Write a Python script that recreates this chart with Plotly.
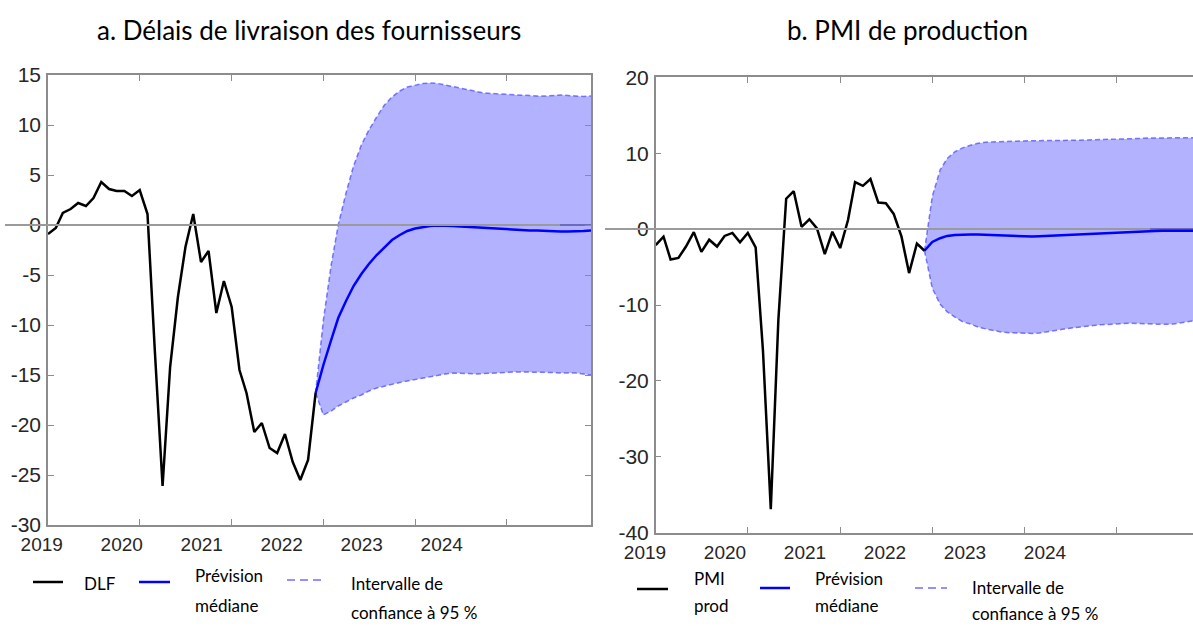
import plotly.graph_objects as go
import pandas as pd

# ---------------- data ----------------
months = pd.date_range("2019-01-01", "2024-12-01", freq="MS")
hist_months = months[:36]          # Jan 2019 .. Dec 2021
fc_months = months[35:]            # Dec 2021 .. Dec 2024

dlf_hist = [-0.9, -0.3, 1.2, 1.6, 2.2, 1.9, 2.7, 4.3, 3.6, 3.4, 3.4, 2.9,
            3.5, 1.1, -12.5, -26.1, -14.2, -7.2, -2.2, 1.1, -3.7, -2.6, -8.8, -5.6,
            -8.2, -14.5, -16.8, -20.7, -19.8, -22.3, -22.8, -20.9, -23.7, -25.5, -23.5, -16.8]
dlf_median = [-16.8, -14.0, -11.5, -9.3, -7.6, -6.1, -4.9, -3.9, -3.0, -2.2, -1.5, -1.0,
              -0.6, -0.35, -0.2, -0.1, -0.05, -0.05, -0.1, -0.15, -0.2, -0.25, -0.3, -0.35,
              -0.4, -0.45, -0.5, -0.5, -0.55, -0.55, -0.6, -0.6, -0.65, -0.65, -0.65, -0.6, -0.55]
dlf_upper = [-16.8, -9.5, -4.0, 0.0, 3.2, 5.9, 8.0, 9.5, 10.8, 12.0, 12.8, 13.4,
             13.8, 14.0, 14.15, 14.2, 14.15, 14.0, 13.85, 13.7, 13.5, 13.35, 13.2, 13.15,
             13.1, 13.05, 13.0, 12.95, 12.9, 12.9, 12.9, 12.95, 13.0, 12.95, 12.9, 12.85, 12.9]
dlf_lower = [-16.8, -19.0, -18.6, -18.1, -17.7, -17.3, -17.0, -16.6, -16.3, -16.1, -15.9, -15.75,
             -15.6, -15.45, -15.3, -15.15, -15.0, -14.9, -14.8, -14.8, -14.85, -14.9, -14.85, -14.8,
             -14.75, -14.7, -14.7, -14.7, -14.7, -14.7, -14.7, -14.75, -14.8, -14.8, -14.8, -14.9, -15.0]

pmi_hist = [-2.1, -1.0, -4.0, -3.8, -2.3, -0.4, -3.0, -1.4, -2.3, -0.9, -0.5, -1.75,
            -0.5, -2.4, -16.0, -36.9, -12.0, 4.0, 5.0, 0.3, 1.3, 0.1, -3.3, -0.35,
            -2.5, 1.2, 6.2, 5.7, 6.6, 3.5, 3.4, 2.0, -1.0, -5.8, -1.9, -2.85]
pmi_median = [-2.85, -1.7, -1.2, -0.9, -0.78, -0.72, -0.7, -0.7, -0.75, -0.8, -0.85, -0.9,
              -0.95, -1.0, -0.98, -0.95, -0.9, -0.85, -0.8, -0.75, -0.68, -0.6, -0.55, -0.5,
              -0.45, -0.4, -0.35, -0.32, -0.3, -0.27, -0.25, -0.23, -0.22, -0.22, -0.22, -0.22, -0.22]
pmi_upper = [-2.85, 4.3, 7.8, 9.3, 10.2, 10.7, 11.05, 11.3, 11.45, 11.5, 11.55, 11.6,
             11.6, 11.62, 11.65, 11.65, 11.68, 11.7, 11.7, 11.7, 11.7, 11.72, 11.75, 11.78,
             11.8, 11.82, 11.85, 11.9, 11.95, 12.0, 12.0, 12.02, 12.05, 12.05, 12.05, 12.05, 12.05]
pmi_lower = [-2.85, -7.8, -9.9, -10.9, -11.6, -12.2, -12.5, -12.9, -13.15, -13.4, -13.55, -13.65,
             -13.7, -13.72, -13.75, -13.7, -13.5, -13.35, -13.2, -13.05, -12.9, -12.8, -12.7, -12.6,
             -12.55, -12.5, -12.4, -12.4, -12.45, -12.5, -12.55, -12.55, -12.55, -12.4, -12.2, -12.1, -12.1]

year_ticks = [2019, 2020, 2021, 2022, 2023, 2024]
year_labels = ["2019", "2020", "2021", "2022", "2023", "2024"]
dlf_yticks = [15, 10, 5, 0, -5, -10, -15, -20, -25, -30]
dlf_ylabels = ["15", "10", "5", "0", "-5", "-10", "-15", "-20", "-25", "-30"]
pmi_yticks = [20, 10, 0, -10, -20, -30, -40]
pmi_ylabels = ["20", "10", "0", "-10", "-20", "-30", "-40"]

titles = ["a. Délais de livraison des fournisseurs", "b. PMI de production"]
legend_left = ["DLF", ["Prévision", "médiane"], ["Intervalle de", "confiance à 95 %"]]
legend_right = [["PMI", "prod"], ["Prévision", "médiane"], ["Intervalle de", "confiance à 95 %"]]

# ---------------- styles ----------------
W, H = 1193, 626
def px(x):
    return x / W
def py(y):
    return 1 - y / H

BLACK = "#000000"
BLUE = "#0000ff"
BAND_LINE = "rgba(60,60,255,0.65)"
BAND_FILL = "rgba(0,0,255,0.30)"
AXIS = "#8c8c8c"
TICKFONT = dict(family="Liberation Sans, Arial", size=21, color="#262626")
XTICKFONT = dict(family="Liberation Sans, Arial", size=19, color="#262626")
TEXTFONT = "Lato, Open Sans"
DASH = "5px,3px"

fig = go.Figure()

def add_panel(xa, ya, hist, median, upper, lower):
    fig.add_trace(go.Scatter(x=fc_months, y=lower, mode="lines", xaxis=xa, yaxis=ya,
                             line=dict(color=BAND_LINE, width=1.5, dash=DASH),
                             showlegend=False, hoverinfo="skip"))
    fig.add_trace(go.Scatter(x=fc_months, y=upper, mode="lines", xaxis=xa, yaxis=ya,
                             fill="tonexty", fillcolor=BAND_FILL,
                             line=dict(color=BAND_LINE, width=1.5, dash=DASH),
                             showlegend=False, hoverinfo="skip"))
    fig.add_trace(go.Scatter(x=fc_months, y=median, mode="lines", xaxis=xa, yaxis=ya,
                             line=dict(color=BLUE, width=2.5), showlegend=False))
    fig.add_trace(go.Scatter(x=hist_months, y=hist, mode="lines", xaxis=xa, yaxis=ya,
                             line=dict(color=BLACK, width=2.5), showlegend=False))

add_panel("x", "y", dlf_hist, dlf_median, dlf_upper, dlf_lower)
add_panel("x2", "y2", pmi_hist, pmi_median, pmi_upper, pmi_lower)
# empty traces for tick-label axes
fig.add_trace(go.Scatter(x=[], y=[], xaxis="x3", yaxis="y", showlegend=False))
fig.add_trace(go.Scatter(x=[], y=[], xaxis="x4", yaxis="y2", showlegend=False))

tick_dates = [f"{y}-01-01" for y in year_ticks]
common_x = dict(type="date", tickvals=tick_dates, ticks="inside", ticklen=6, tickcolor=AXIS,
                tickwidth=1.2, showticklabels=False, showline=True, linecolor=AXIS,
                linewidth=1.5, mirror="ticks", showgrid=False, zeroline=False, automargin=False)
common_y = dict(ticks="inside", ticklen=6, tickcolor=AXIS, tickwidth=1.2, showline=True,
                linecolor=AXIS, linewidth=1.5, showgrid=False, zeroline=True,
                zerolinecolor="#9a9a9a", zerolinewidth=1.5, tickfont=TICKFONT,
                ticklabelstandoff=1, automargin=False)

# label axes: year labels placed on an 80px grid as in the reference
def label_axis(first_center_px, dom0, dom1, anchor):
    step = 80.0
    r0 = year_ticks[0] + (dom0 - first_center_px) / step
    r1 = year_ticks[0] + (dom1 - first_center_px) / step
    return dict(domain=[px(dom0), px(dom1)], range=[r0, r1], anchor=anchor,
                tickvals=year_ticks, ticktext=year_labels, ticks="", showline=False,
                showgrid=False, zeroline=False, tickfont=XTICKFONT, ticklabelstandoff=6,
                automargin=False)

fig.update_layout(
    width=W, height=H,
    margin=dict(l=0, r=0, t=0, b=0, autoexpand=False),
    paper_bgcolor="white", plot_bgcolor="rgba(0,0,0,0)",
    xaxis=dict(common_x, domain=[px(48), px(591)], range=["2019-01-01", "2024-12-01"], anchor="y"),
    yaxis=dict(common_y, domain=[py(525), py(75)], range=[-30, 15], tickvals=dlf_yticks,
               ticktext=dlf_ylabels, mirror="ticks", anchor="x"),
    xaxis2=dict(common_x, domain=[px(655.7), 1.0], range=["2019-01-01", "2024-10-30"], anchor="y2"),
    yaxis2=dict(common_y, domain=[py(532.7), py(77.3)], range=[-40, 20], tickvals=pmi_yticks,
                ticktext=pmi_ylabels, mirror=False, anchor="x2"),
    xaxis3=label_axis(41.7, 5, 560, "y"),
    xaxis4=label_axis(645.0, 605, 1150, "y2"),
    showlegend=False,
)

# titles
fig.add_annotation(text=titles[0], x=px(309), y=py(30), xref="paper", yref="paper",
                   xanchor="center", yanchor="middle",
                   showarrow=False, font=dict(family=TEXTFONT, size=26, color="#000"))
fig.add_annotation(text=titles[1], x=px(907.5), y=py(30), xref="paper", yref="paper",
                   xanchor="center", yanchor="middle",
                   showarrow=False, font=dict(family=TEXTFONT, size=26, color="#000"))

# custom legends
def legend_sample(x0, x1, y, color, width, dash=None):
    fig.add_shape(type="line", xref="paper", yref="paper", x0=px(x0), x1=px(x1),
                  y0=py(y), y1=py(y), line=dict(color=color, width=width, dash=dash))

def legend_text(txt, x, y):
    fig.add_annotation(text=txt, x=px(x), y=py(y), xref="paper", yref="paper",
                       xanchor="left", yanchor="middle", showarrow=False,
                       font=dict(family=TEXTFONT, size=17, color="#000"))

# left legend
legend_sample(33, 63, 582, BLACK, 2.5)
legend_text(legend_left[0], 82, 583)
legend_sample(139, 170, 582, BLUE, 2.5)
legend_text(legend_left[1][0], 193, 575)
legend_text(legend_left[1][1], 193, 605)
legend_sample(287, 325, 580, "rgba(110,110,255,1)", 1.5, "8px,5px")
legend_text(legend_left[2][0], 349, 583)
legend_text(legend_left[2][1], 349, 612)

# right legend
legend_sample(637, 668, 589, BLACK, 2.5)
legend_text(legend_right[0][0], 692, 578)
legend_text(legend_right[0][1], 692, 605)
legend_sample(760, 790, 588, BLUE, 2.5)
legend_text(legend_right[1][0], 813, 578)
legend_text(legend_right[1][1], 813, 605)
legend_sample(915, 947, 588, "rgba(110,110,255,1)", 1.5, "8px,5px")
legend_text(legend_right[2][0], 970, 587)
legend_text(legend_right[2][1], 970, 613)

fig.write_html("out.html", config={"displayModeBar": False},
               post_script="document.body.style.margin='0';")
